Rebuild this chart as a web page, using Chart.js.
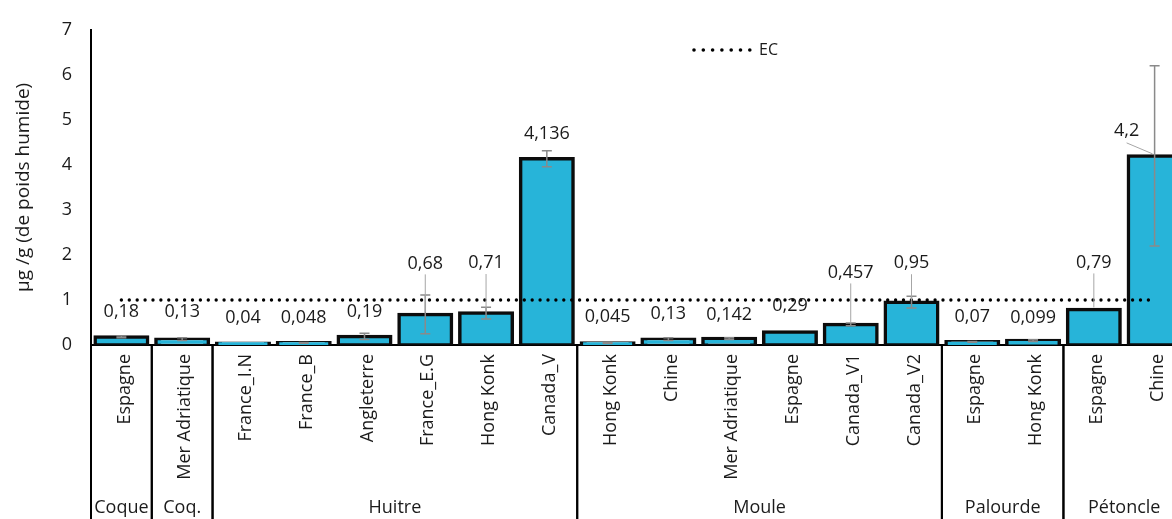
<!DOCTYPE html>
<html>
<head>
<meta charset="utf-8">
<script src="https://cdn.jsdelivr.net/npm/chart.js@4.4.1/dist/chart.umd.min.js"></script>
<style>
  html, body { margin: 0; padding: 0; background: #fff; overflow: hidden; }
  #wrap { width: 1172px; height: 519px; overflow: hidden; position: relative; }
  canvas { display: block; }
</style>
</head>
<body>
<div id="wrap"><canvas id="c" width="1185" height="519"></canvas></div>
<script>
// Sampling sites (one bar each), grouped by shellfish species
const sites = ['Espagne', 'Mer Adriatique', 'France_I.N', 'France_B', 'Angleterre', 'France_E.G',
  'Hong Konk', 'Canada_V', 'Hong Konk', 'Chine', 'Mer Adriatique', 'Espagne', 'Canada_V1',
  'Canada_V2', 'Espagne', 'Hong Konk', 'Espagne', 'Chine'];
const speciesNames = ['Coque', 'Coq.', 'Huitre', 'Moule', 'Palourde', 'Pétoncle'];
const speciesSizes = [1, 1, 6, 6, 2, 2];

// Mean concentration, µg/g wet weight
const concentrations = [0.18, 0.13, 0.04, 0.048, 0.19, 0.68, 0.71, 4.136, 0.045, 0.13, 0.142,
  0.29, 0.457, 0.95, 0.07, 0.099, 0.79, 4.2];
// Standard deviation (error bar half-length)
const deviations = [0.02, 0.03, 0, 0.01, 0.07, 0.43, 0.13, 0.18, 0.01, 0.03, 0.02, 0, 0.03,
  0.13, 0.01, 0.02, 0, 2.0];
// EC regulatory limit
const ecLimit = [1, 1, 1, 1, 1, 1, 1, 1, 1, 1, 1, 1, 1, 1, 1, 1, 1, 1];
const yTicks = [0, 1, 2, 3, 4, 5, 6, 7];

const FONT = "'Open Sans', 'DejaVu Sans', sans-serif";
const INK = '#1b1b1b';

// Label placement: lift (px) above the bar top, horizontal shift, leader line flag
const labelLift = [25, 27, 25, 25, 25, 51, 50, 25, 26, 25, 24, 26, 52, 39, 25, 23, 47, 25];
const labelShift = [0, 0, 0, 0, 0, 0, 0, 0, 0, 0, 0, 0, 0, 0, 0, 0, 0, -28];
const leader = [0, 0, 0, 0, 0, 1, 1, 0, 0, 0, 0, 0, 1, 1, 0, 0, 1, 1];

const fmt = v => String(v).replace('.', ',');

const decorations = {
  id: 'decorations',
  afterDatasetsDraw(chart) {
    const { ctx, chartArea, scales: { x, y } } = chart;
    const H = chart.height;
    ctx.save();

    // error bars
    ctx.strokeStyle = '#8a8a8a';
    ctx.lineWidth = 1.5;
    concentrations.forEach((v, i) => {
      const e = deviations[i];
      if (!e) return;
      const cx = x.getPixelForValue(i);
      const yt = y.getPixelForValue(v + e);
      const yb = y.getPixelForValue(Math.max(v - e, 0));
      ctx.beginPath();
      ctx.moveTo(cx, yt); ctx.lineTo(cx, yb);
      ctx.moveTo(cx - 5, yt); ctx.lineTo(cx + 5, yt);
      ctx.moveTo(cx - 5, yb); ctx.lineTo(cx + 5, yb);
      ctx.stroke();
    });

    // value labels with leader lines
    ctx.font = `18px ${FONT}`;
    ctx.fillStyle = INK;
    ctx.textAlign = 'center';
    ctx.textBaseline = 'middle';
    concentrations.forEach((v, i) => {
      const cx = x.getPixelForValue(i);
      const top = y.getPixelForValue(v);
      const lx = cx + labelShift[i];
      const ly = top - labelLift[i];
      ctx.fillText(fmt(v), lx, ly);
      if (leader[i]) {
        ctx.strokeStyle = '#a6a6a6';
        ctx.lineWidth = 1;
        ctx.beginPath();
        if (labelShift[i]) {
          ctx.moveTo(lx, ly + 12);
          ctx.lineTo(cx - 2, top - 2);
        } else {
          ctx.moveTo(cx, ly + 11);
          ctx.lineTo(cx, top - 2);
        }
        ctx.stroke();
      }
    });

    // category labels (rotated)
    ctx.font = `18px ${FONT}`;
    ctx.textAlign = 'right';
    ctx.textBaseline = 'middle';
    sites.forEach((s, i) => {
      const cx = x.getPixelForValue(i);
      ctx.save();
      ctx.translate(cx + 3, chartArea.bottom + 9);
      ctx.rotate(-Math.PI / 2);
      ctx.fillText(s, 0, 0);
      ctx.restore();
    });

    // species boxes and names
    ctx.strokeStyle = '#000';
    ctx.lineWidth = 2;
    ctx.textAlign = 'center';
    let start = 0;
    speciesSizes.forEach((n, g) => {
      const left = x.getPixelForValue(start - 0.5);
      const right = x.getPixelForValue(start + n - 0.5);
      ctx.beginPath();
      ctx.moveTo(left, chartArea.bottom); ctx.lineTo(left, H);
      ctx.moveTo(right, chartArea.bottom); ctx.lineTo(right, H);
      ctx.stroke();
      ctx.fillText(speciesNames[g], (left + right) / 2, H - 11);
      start += n;
    });

    // legend
    ctx.fillStyle = '#000';
    for (let k = 0; k < 7; k++) {
      ctx.beginPath();
      ctx.arc(694 + k * 9.3, 50, 1.8, 0, Math.PI * 2);
      ctx.fill();
    }
    ctx.fillStyle = INK;
    ctx.font = `16px ${FONT}`;
    ctx.textAlign = 'left';
    ctx.fillText('EC', 759, 50);

    ctx.restore();
  }
};

new Chart(document.getElementById('c'), {
  data: {
    labels: sites,
    datasets: [
      {
        type: 'line',
        label: 'EC',
        data: ecLimit,
        order: 0,
        borderColor: '#000',
        borderWidth: 3.4,
        borderDash: [0, 7.9],
        borderCapStyle: 'round',
        pointRadius: 0,
        fill: false
      },
      {
        type: 'bar',
        label: 'Concentration',
        data: concentrations,
        order: 1,
        backgroundColor: '#27b4d9',
        borderColor: '#0c0c0c',
        borderWidth: 3.5,
        borderSkipped: false,
        inflateAmount: 1.75,
        barPercentage: 0.864,
        categoryPercentage: 1.0
      }
    ]
  },
  options: {
    responsive: false,
    animation: false,
    devicePixelRatio: 1,
    events: [],
    layout: { padding: { top: 21, left: 0, right: 0, bottom: 0 } },
    plugins: { legend: { display: false }, tooltip: { enabled: false } },
    scales: {
      x: {
        type: 'category',
        offset: true,
        grid: { display: false },
        border: { display: true, color: '#000', width: 2 },
        ticks: { display: false },
        afterFit(s) { s.height = 174; }
      },
      y: {
        min: 0,
        max: 7,
        afterBuildTicks(s) { s.ticks = yTicks.map(v => ({ value: v })); },
        grid: { display: false, drawTicks: false },
        border: { display: true, color: '#000', width: 2 },
        ticks: { padding: 19, color: INK, font: { family: FONT, size: 18 } },
        title: {
          display: true,
          text: 'µg /g (de poids humide)',
          color: INK,
          font: { family: FONT, size: 19 },
          padding: { top: 12, bottom: 0 }
        },
        afterFit(s) { s.width = 91; }
      }
    }
  },
  plugins: [decorations]
});
</script>
</body>
</html>
